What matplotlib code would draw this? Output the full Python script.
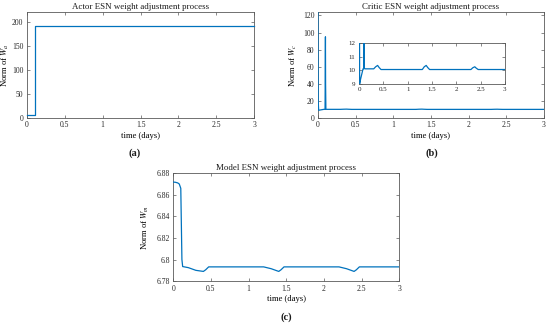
import matplotlib
matplotlib.use("Agg")
import matplotlib.pyplot as plt

plt.rcParams["font.family"] = ["Liberation Serif", "DejaVu Serif"]
plt.rcParams["mathtext.fontset"] = "stix"

LINE_COLOR = "#0072BD"
AXIS_COLOR = "0.35"

# actor ESN weight norm (step at ~0.1 days)
actor_t = [0, 0.1, 0.1, 3]
actor_w = [7, 7, 190, 190]

# critic ESN weight norm
critic_t = [0, 0.004, 0.01, 0.03, 0.06, 0.08, 0.095, 0.1, 0.102, 0.106, 0.12,
            0.3, 0.34, 0.38, 0.41, 0.45, 1.3, 1.34, 1.38, 1.41, 1.45,
            2.3, 2.34, 2.38, 2.41, 2.45, 3]
critic_w = [130, 20, 9.0, 9.35, 9.8, 10.1, 10.1, 95, 40, 10.15, 10.1,
            10.1, 10.25, 10.35, 10.2, 10.05, 10.05, 10.25, 10.35, 10.2, 10.05,
            10.05, 10.18, 10.25, 10.15, 10.05, 10.05]

# model ESN weight norm
model_t = [0, 0.03, 0.06, 0.08, 0.1, 0.115, 0.125, 0.2, 0.3, 0.4, 0.43, 0.47,
           1.2, 1.3, 1.4, 1.43, 1.47, 2.2, 2.3, 2.4, 2.43, 2.47, 3]
model_w = [6.8718, 6.8716, 6.871, 6.870, 6.866, 6.800, 6.7935, 6.7925, 6.790, 6.789,
           6.7905, 6.7932, 6.7932, 6.7915, 6.789, 6.7905, 6.7932,
           6.7932, 6.7915, 6.789, 6.7905, 6.7932, 6.7932]

x_ticks = [0, 0.5, 1, 1.5, 2, 2.5, 3]
x_tick_labels = ["0", "0.5", "1", "1.5", "2", "2.5", "3"]


def style_axes(ax, size=5.5):
    for spine in ax.spines.values():
        spine.set_color(AXIS_COLOR)
        spine.set_linewidth(0.6)
    ax.tick_params(direction="in", length=2, width=0.5, colors=AXIS_COLOR,
                   labelcolor="0.15", labelsize=size, top=True, right=True, pad=2.5)
    ax.set_xlim(0, 3)
    ax.set_xticks(x_ticks)
    ax.set_xticklabels(x_tick_labels)


def label_axes(ax, title, ylabel, ylabel_x):
    ax.set_title(title, fontsize=6.4, pad=2, color="0.1")
    ax.set_ylabel(ylabel, fontsize=6.2)
    ax.yaxis.set_label_coords(ylabel_x, 0.5)
    ax.set_xlabel("time (days)", fontsize=6.2, labelpad=2)


fig = plt.figure(figsize=(5.5, 3.25), dpi=100)

# (a) actor
ax_a = fig.add_axes([0.049, 0.637, 0.413, 0.326])
ax_a.plot(actor_t, actor_w, color=LINE_COLOR, lw=0.9, zorder=3, clip_on=False)
style_axes(ax_a)
ax_a.set_ylim(0, 220)
ax_a.set_yticks([0, 50, 100, 150, 200])
label_axes(ax_a, "Actor ESN weight adjustment process", "Norm of $W_a$", -0.072)

# (b) critic
ax_b = fig.add_axes([0.578, 0.637, 0.411, 0.326])
ax_b.plot(critic_t, critic_w, color=LINE_COLOR, lw=0.9, zorder=3)
style_axes(ax_b)
ax_b.set_ylim(0, 124)
ax_b.set_yticks([0, 20, 40, 60, 80, 100, 120])
label_axes(ax_b, "Critic ESN weight adjustment process", "Norm of $W_c$", -0.085)

ax_in = fig.add_axes([0.653, 0.742, 0.265, 0.126])
ax_in.plot(critic_t, critic_w, color=LINE_COLOR, lw=0.9, zorder=3)
style_axes(ax_in, size=5)
ax_in.set_ylim(9, 12)
ax_in.set_yticks([9, 10, 11, 12])

# (c) model
ax_c = fig.add_axes([0.315, 0.135, 0.411, 0.332])
ax_c.plot(model_t, model_w, color=LINE_COLOR, lw=0.9, zorder=3)
style_axes(ax_c)
ax_c.set_ylim(6.78, 6.88)
ax_c.set_yticks([6.78, 6.80, 6.82, 6.84, 6.86, 6.88])
ax_c.set_yticklabels(["6.78", "6.8", "6.82", "6.84", "6.86", "6.88"])
label_axes(ax_c, "Model ESN weight adjustment process", "Norm of $W_m$", -0.1)

# panel letters
for x, y, letter in [(0.245, 0.529, "a"), (0.785, 0.529, "b"), (0.52, 0.025, "c")]:
    fig.text(x, y, "(" + letter + ")", fontsize=7.5, ha="center", va="center",
             fontweight="bold", color="0.1")

fig.savefig("out.png", dpi=100)
